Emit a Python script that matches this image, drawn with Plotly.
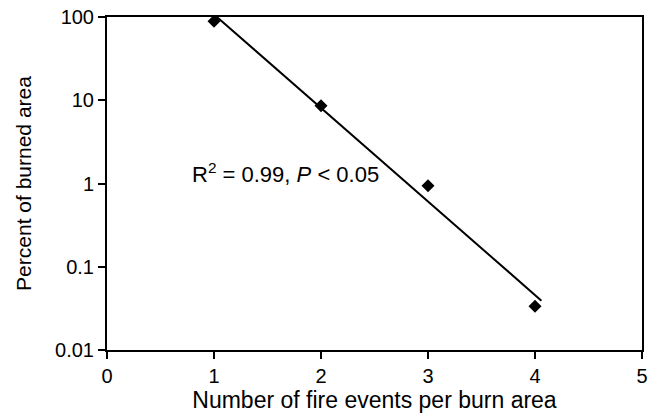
import numpy as np
import plotly.graph_objects as go

fire_events = [1, 2, 3, 4]
percent_burned = [89, 8.6, 0.94, 0.0335]
trend_x = [1, 4.06]
x_ticks = [0, 1, 2, 3, 4, 5]
y_ticks = [0.01, 0.1, 1, 10, 100]
y_tick_labels = ["0.01", "0.1", "1", "10", "100"]

slope, intercept = np.polyfit(fire_events, np.log10(percent_burned), 1)
trend_y = [10 ** (intercept + slope * x) for x in trend_x]

font = "Liberation Sans, Arial, sans-serif"

fig = go.Figure()
fig.add_trace(go.Scatter(x=trend_x, y=trend_y, mode="lines",
                         line=dict(color="black", width=2), showlegend=False))
fig.add_trace(go.Scatter(x=fire_events, y=percent_burned, mode="markers",
                         marker=dict(symbol="diamond", color="black", size=10),
                         showlegend=False, cliponaxis=False))

fig.add_annotation(x=1.67, y=np.log10(1.32), xref="x", yref="y",
                   text="R<sup>2</sup> = 0.99, <i>P</i> < 0.05", showarrow=False,
                   font=dict(size=22, color="black", family=font))

fig.update_layout(
    width=654, height=416,
    margin=dict(l=107, r=12, t=17, b=66),
    paper_bgcolor="white", plot_bgcolor="white",
    font=dict(family=font, size=20, color="black"),
    xaxis=dict(range=[0, 5], tickvals=x_ticks, ticks="outside", ticklen=7,
               tickwidth=2, tickcolor="black", showline=True, linecolor="black",
               linewidth=2, mirror=True, showgrid=False, zeroline=False,
               tickfont=dict(size=20), automargin=False,
               title=dict(text="Number of fire events per burn area", standoff=4,
                          font=dict(size=23))),
    yaxis=dict(type="log", range=[-2, 2], tickvals=y_ticks, ticktext=y_tick_labels,
               ticks="outside", ticklen=7, tickwidth=2, tickcolor="black",
               showline=True, linecolor="black", linewidth=2, mirror=True,
               showgrid=False, zeroline=False, tickfont=dict(size=20),
               automargin=False,
               title=dict(text="Percent of burned area", standoff=18,
                          font=dict(size=21))),
)

fig.write_html("out.html")
